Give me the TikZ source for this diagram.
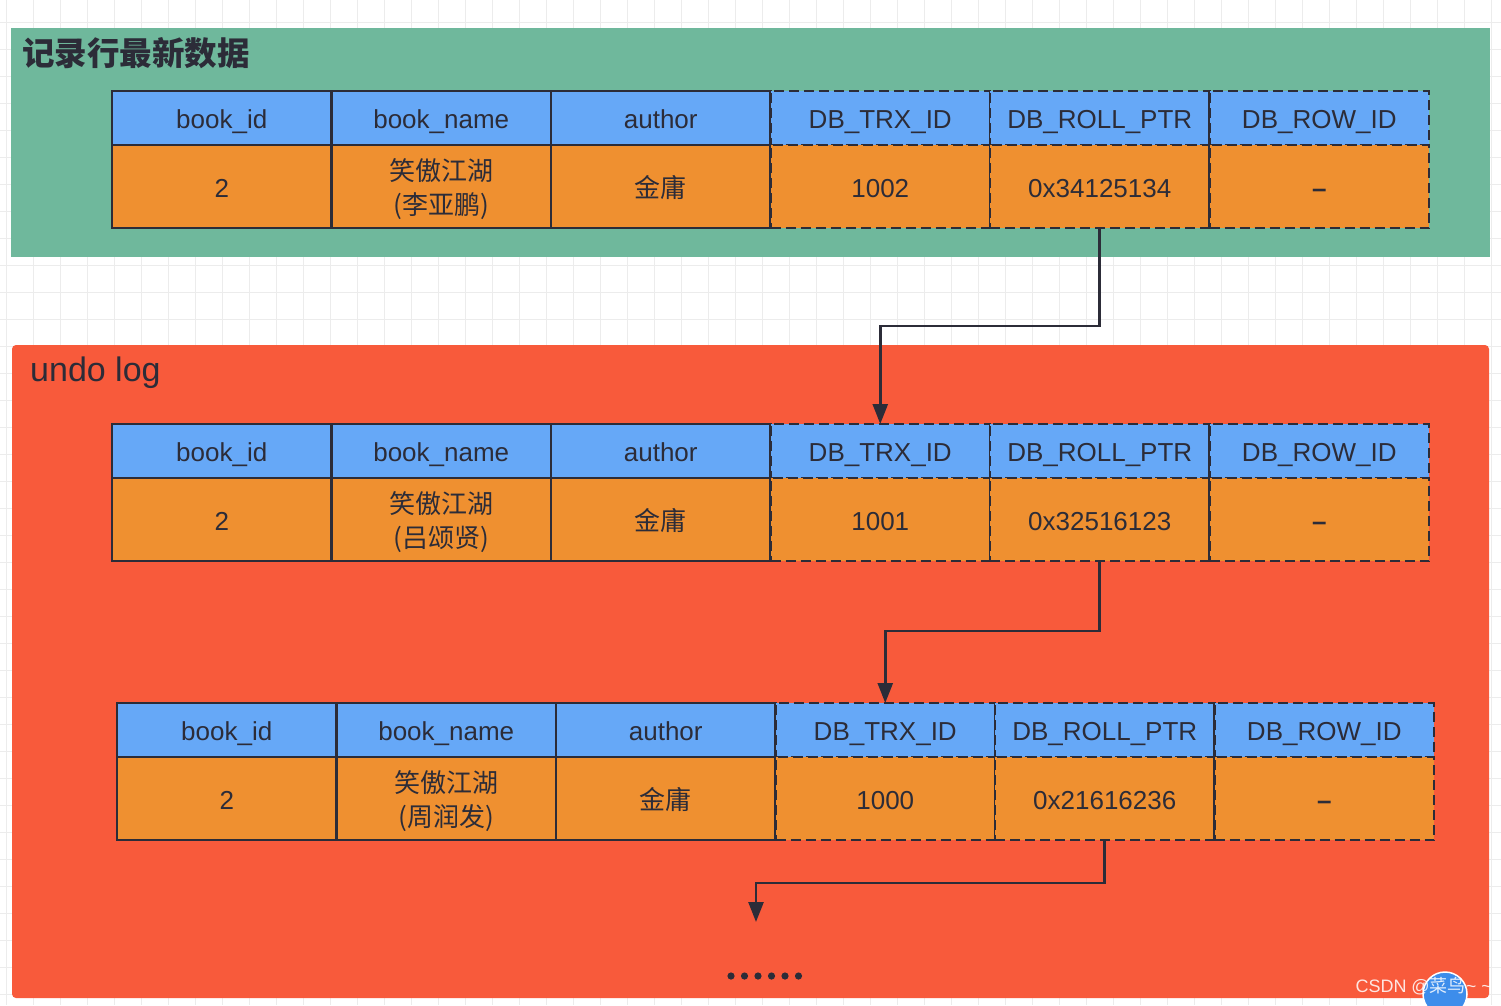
\documentclass[tikz,border=0pt]{standalone}
\usepackage{fontspec}
\setmainfont{Liberation Sans}
\newfontfamily\cjk{Noto Sans CJK SC}
\usetikzlibrary{arrows.meta}
\definecolor{bggreen}{HTML}{6FB89C}
\definecolor{bgred}{HTML}{F85A3B}
\definecolor{hblue}{HTML}{66A8F7}
\definecolor{dorange}{HTML}{EF9030}
\definecolor{ink}{HTML}{2C2C38}
\definecolor{gridc}{HTML}{ECECEC}
\definecolor{wmblue}{HTML}{3D8DEB}
\newcommand\mktable[6]{%
  \node[hcell,solidb] (#1h1) at (#2,#3) {book\_id};
  \node[hcell,solidb] (#1h2) at ({#2+219.5},#3) {book\_name};
  \node[hcell,solidb] (#1h3) at ({#2+439},#3) {author};
  \node[dcell,oneline,solidb] (#1d1) at (#2,{#3+54}) {2};
  \node[dcell,solidb] (#1d2) at ({#2+219.5},{#3+54}) {\rule{0pt}{28pt}\cjk 笑傲江湖\\\cjk (#4)};
  \node[dcell,oneline,solidb] (#1d3) at ({#2+439},{#3+54}) {\cjk 金庸};
  \node[hcell,dashb] (#1h4) at ({#2+658.5},#3) {DB\_TRX\_ID};
  \node[hcell,dashb] (#1h5) at ({#2+878},#3) {DB\_ROLL\_PTR};
  \node[hcell,dashb] (#1h6) at ({#2+1097.5},#3) {DB\_ROW\_ID};
  \node[dcell,oneline,dashb] (#1d4) at ({#2+658.5},{#3+54}) {#5};
  \node[dcell,oneline,dashb] (#1d5) at ({#2+878},{#3+54}) {#6};
  \node[dcell,oneline,dashb] (#1d6) at ({#2+1097.5},{#3+54}) {\textbf{--}};
}
\begin{document}
\begin{tikzpicture}[x=1pt,y=-1pt,
  cellbase/.style={anchor=north west, inner sep=0pt, outer sep=0pt, minimum width=219.5pt,
    text=ink, align=center, line width=2.6pt, font=\fontsize{26}{34}\selectfont},
  oneline/.style={text height=23pt, text depth=2pt},
  hcell/.style={cellbase, oneline, fill=hblue, minimum height=54pt},
  dcell/.style={cellbase, fill=dorange, minimum height=83pt},
  solidb/.style={draw=ink},
  dashb/.style={draw=ink, dash pattern=on 10pt off 5pt},
  conn/.style={draw=ink, line width=2.6pt, -{Triangle[length=20pt,width=15pt]}},
  title/.style={anchor=west, text=ink, inner sep=0pt}]
\useasboundingbox (0,0) rectangle (1501,1005);
\fill[white] (0,0) rectangle (1501,1005);
\foreach \i in {0,...,55} \draw[gridc, line width=1pt] ({6+27*\i},0) -- ({6+27*\i},1005);
\foreach \j in {0,...,37} \draw[gridc, line width=1pt] (0,{22+27*\j}) -- (1501,{22+27*\j});
% green panel
\fill[bggreen] (11,28) rectangle (1490,257);
\node[title, font=\cjk\bfseries\fontsize{32.5}{36}\selectfont] (t1) at (22,53) {记录行最新数据};
% red panel
\fill[bgred, rounded corners=4pt] (12,345) rectangle (1489,998);
\node[title, font=\fontsize{34}{38}\selectfont] (t2) at (30,373) {undo log};
% tables
\mktable{a}{112}{91}{李亚鹏}{1002}{0x34125134}
\mktable{b}{112}{424}{吕颂贤}{1001}{0x32516123}
\mktable{c}{117}{703}{周润发}{1000}{0x21616236}
% connectors
\coordinate (more) at (756,922);
\draw[conn] (ad5.south) -- ++(0,98) -| (bh4.north);
\draw[conn] (bd5.south) -- ++(0,70) -| (ch4.north);
\draw[conn] (cd5.south) -- ++(0,43) -| (more);
% dots
\foreach \k in {0,...,5} \fill[ink] ({731+13.5*\k},976) circle (3.6);
% watermark
\fill[wmblue] (1445,994) circle (22);
\draw[white, line width=1.5pt] (1445,994) circle (22);
\node[anchor=east, text=white, opacity=0.85, inner sep=0pt, font=\fontsize{18}{20}\selectfont] (wm) at (1492,986) {CSDN @{\cjk 菜鸟}\textasciitilde\ \textasciitilde};
\end{tikzpicture}
\end{document}
